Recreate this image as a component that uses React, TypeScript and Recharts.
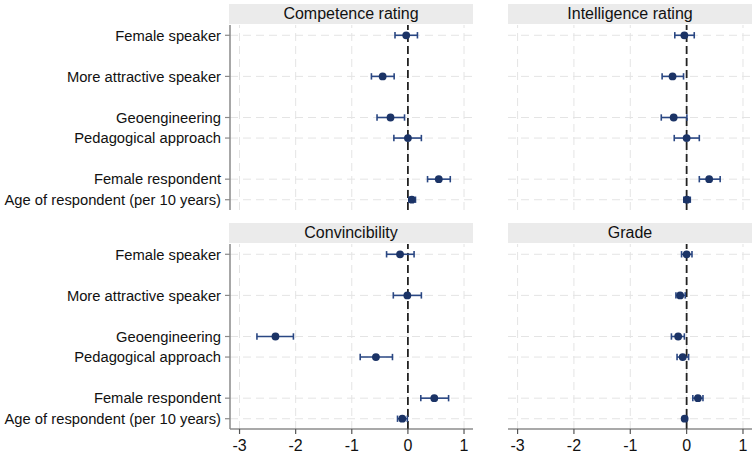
import React from 'react';
import { ScatterChart, Scatter, XAxis, YAxis, ErrorBar, ReferenceLine } from 'recharts';

// Regression terms, top to bottom, and their row positions (gaps separate groups)
const terms = [
  'Female speaker',
  'More attractive speaker',
  'Geoengineering',
  'Pedagogical approach',
  'Female respondent',
  'Age of respondent (per 10 years)',
];
const termRows = [1, 3, 5, 6, 8, 9];
const xTicks = [-3, -2, -1, 0, 1];

// Competence rating: estimate and 95% CI bounds
const competenceEst = [-0.03, -0.45, -0.31, 0.0, 0.55, 0.07];
const competenceLo = [-0.23, -0.65, -0.55, -0.25, 0.35, 0.02];
const competenceHi = [0.17, -0.245, -0.06, 0.24, 0.755, 0.135];

// Intelligence rating
const intelligenceEst = [-0.04, -0.25, -0.23, 0.0, 0.4, 0.005];
const intelligenceLo = [-0.21, -0.435, -0.45, -0.22, 0.225, -0.05];
const intelligenceHi = [0.135, -0.055, 0.005, 0.225, 0.595, 0.065];

// Convincibility
const convincibilityEst = [-0.14, -0.01, -2.36, -0.57, 0.47, -0.1];
const convincibilityLo = [-0.38, -0.26, -2.69, -0.85, 0.23, -0.185];
const convincibilityHi = [0.11, 0.24, -2.04, -0.275, 0.725, -0.01];

// Grade
const gradeEst = [0.0, -0.115, -0.15, -0.07, 0.2, -0.035];
const gradeLo = [-0.09, -0.19, -0.27, -0.17, 0.11, -0.05];
const gradeHi = [0.095, -0.025, -0.04, 0.035, 0.29, -0.02];

const NAVY = '#1b3366';
const BAR = '#2a4783';
const GRID = '#e4e4e4';
const X_DOMAIN: [number, number] = [-3.17, 1.16];
const FONT = '"Liberation Sans", Arial, sans-serif';

const build = (est: number[], lo: number[], hi: number[]) =>
  terms.map((term, i) => ({
    term,
    row: termRows[i],
    est: est[i],
    err: [est[i] - lo[i], hi[i] - est[i]],
  }));

const panels = [
  { title: 'Competence rating', data: build(competenceEst, competenceLo, competenceHi) },
  { title: 'Intelligence rating', data: build(intelligenceEst, intelligenceLo, intelligenceHi) },
  { title: 'Convincibility', data: build(convincibilityEst, convincibilityLo, convincibilityHi) },
  { title: 'Grade', data: build(gradeEst, gradeLo, gradeHi) },
];

const rowLabel = (v: number) => {
  const i = termRows.indexOf(v);
  return i >= 0 ? terms[i] : '';
};

const Dot = (p: any) => <circle cx={p.cx} cy={p.cy} r={3.9} fill={NAVY} />;

type PanelProps = {
  data: ReturnType<typeof build>;
  showY: boolean;
  showX: boolean;
  width: number;
  height: number;
};

function Panel({ data, showY, showX, width, height }: PanelProps) {
  return (
    <ScatterChart width={width} height={height} margin={{ top: 0, right: 0, bottom: 0, left: 0 }}>
      <XAxis
        type="number"
        dataKey="est"
        domain={X_DOMAIN}
        ticks={xTicks}
        allowDataOverflow
        hide={!showX}
        height={30}
        tickSize={5}
        tickMargin={6}
        axisLine={{ stroke: '#555', strokeWidth: 1.2 }}
        tickLine={{ stroke: '#555', strokeWidth: 1.2 }}
        tick={{ fill: '#111', fontSize: 16, fontFamily: FONT }}
      />
      <YAxis
        type="number"
        dataKey="row"
        domain={[0.5, 9.5]}
        reversed
        ticks={termRows}
        interval={0}
        allowDataOverflow
        hide={!showY}
        width={230}
        tickSize={5}
        tickMargin={4}
        tickFormatter={rowLabel}
        axisLine={{ stroke: '#8a8a8a', strokeWidth: 1.5 }}
        tickLine={{ stroke: '#8a8a8a', strokeWidth: 1.2 }}
        tick={{ fill: '#111', fontSize: 14.75, fontFamily: FONT }}
      />
      {xTicks.map((t) => (
        <ReferenceLine key={`vx${t}`} x={t} stroke={GRID} strokeWidth={1} strokeDasharray="8 5" />
      ))}
      {termRows.map((r) => (
        <ReferenceLine key={`hy${r}`} y={r} stroke={GRID} strokeWidth={1} strokeDasharray="8 5" />
      ))}
      <ReferenceLine x={0} stroke="#222" strokeWidth={1.8} strokeDasharray="8 4" />
      <Scatter data={data} shape={Dot} isAnimationActive={false}>
        <ErrorBar dataKey="err" direction="x" width={3.2} stroke={BAR} strokeWidth={1.6} isAnimationActive={false} />
      </Scatter>
    </ScatterChart>
  );
}

const headerStyle = (left: number, top: number, width: number): React.CSSProperties => ({
  position: 'absolute',
  left,
  top,
  width,
  height: 20,
  lineHeight: '20px',
  background: '#ebebeb',
  textAlign: 'center',
  fontSize: 16,
  fontFamily: FONT,
  color: '#111',
});

export default function App() {
  return (
    <div
      style={{
        position: 'absolute',
        left: 0,
        top: 0,
        width: 755,
        height: 459,
        background: '#fff',
        overflow: 'hidden',
        fontFamily: FONT,
      }}
    >
      <div style={headerStyle(229, 4, 244)}>{panels[0].title}</div>
      <div style={headerStyle(508, 4, 244)}>{panels[1].title}</div>
      <div style={headerStyle(229, 223, 244)}>{panels[2].title}</div>
      <div style={headerStyle(508, 223, 244)}>{panels[3].title}</div>

      <div style={{ position: 'absolute', left: 0, top: 25 }}>
        <Panel data={panels[0].data} showY showX={false} width={473} height={185} />
      </div>
      <div style={{ position: 'absolute', left: 508, top: 25 }}>
        <Panel data={panels[1].data} showY={false} showX={false} width={244} height={185} />
      </div>
      <div style={{ position: 'absolute', left: 0, top: 244 }}>
        <Panel data={panels[2].data} showY showX width={473} height={215} />
      </div>
      <div style={{ position: 'absolute', left: 508, top: 244 }}>
        <Panel data={panels[3].data} showY={false} showX width={244} height={215} />
      </div>
    </div>
  );
}
